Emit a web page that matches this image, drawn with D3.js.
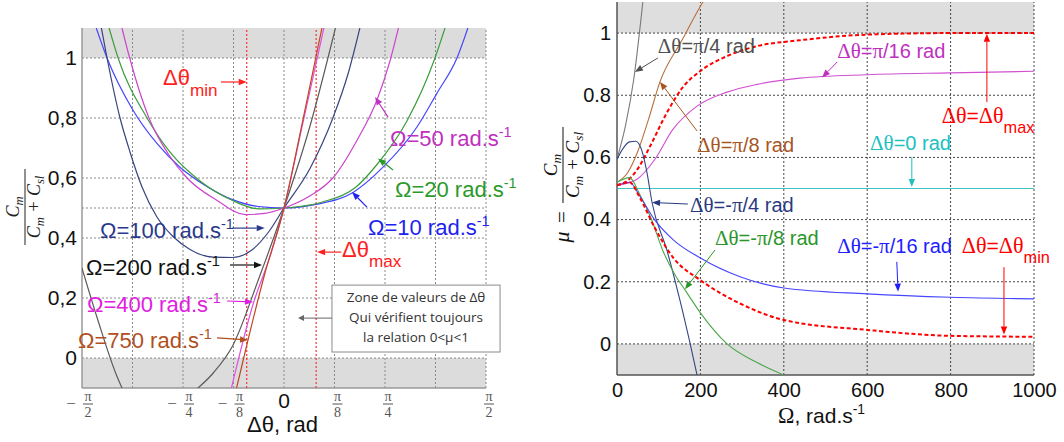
<!DOCTYPE html>
<html><head><meta charset="utf-8">
<script src="https://cdn.jsdelivr.net/npm/d3@7"></script>
<style>body{margin:0;background:#fff}svg{display:block}</style>
</head><body><svg id="c" width="1064" height="442"></svg>
<script>
const PI = Math.PI;
// ---------------- LEFT PANEL DATA : [Δθ (rad), μ] ----------------
const leftOmegas = [10, 20, 50, 100, 200, 400, 750];
const left_W10 = [[-1.46,1.1],[-1.376,1.0],[-1.18,0.83],[-0.99,0.716],[-0.809,0.636],[-0.6,0.572],[-0.4,0.528],[-0.2,0.505],[0,0.5],[0.25,0.512],[0.537,0.552],[0.77,0.636],[1.034,0.77],[1.19,0.883],[1.345,1.0],[1.43,1.1]];
const left_W20 = [[-1.36,1.1],[-1.29,1.0],[-1.065,0.8],[-0.886,0.686],[-0.653,0.59],[-0.4,0.525],[-0.2,0.497],[0,0.5],[0.3,0.52],[0.56,0.57],[0.723,0.645],[0.956,0.79],[1.174,1.0],[1.252,1.1]];
const left_W50 = [[-1.26,1.1],[-1.2,1.0],[-1.05,0.8],[-0.9,0.68],[-0.754,0.6],[-0.52,0.525],[-0.3,0.478],[-0.15,0.482],[0,0.5],[0.2,0.54],[0.38,0.6],[0.568,0.726],[0.723,0.86],[0.824,0.99],[0.89,1.1]];
const left_W100 = [[-1.42,1.1],[-1.376,1.0],[-1.275,0.8],[-1.197,0.686],[-1.104,0.57],[-0.988,0.47],[-0.863,0.405],[-0.731,0.362],[-0.55,0.336],[-0.4,0.335],[-0.25,0.36],[-0.12,0.42],[0,0.5],[0.2,0.63],[0.38,0.8],[0.5,0.95],[0.59,1.1]];
const left_W200 = [[-1.571,0.30],[-1.45,0.13],[-1.3,-0.06],[-1.15,-0.18],[-0.95,-0.22],[-0.72,-0.12],[-0.55,-0.05],[-0.4,0.04],[-0.2,0.26],[0,0.5],[0.2,0.77],[0.4,1.1]];
const left_W400 = [[-0.42,-0.12],[-0.24,0.18],[-0.1,0.35],[0,0.5],[0.15,0.79],[0.31,1.1],[0.35,1.18]];
const left_W750 = [[-0.38,-0.12],[-0.28,0.06],[-0.15,0.28],[0,0.5],[0.15,0.8],[0.295,1.1],[0.33,1.17]];
const leftLimits = [-0.29, 0.25];           // Δθmin, Δθmax (rad)
const leftYTicks = [0, 0.2, 0.4, 0.6, 0.8, 1];
const leftYTickLabels = ["0", "0,2", "0,4", "0,6", "0,8", "1"];
const leftYGrid = [0, 0.2, 0.4, 0.5, 0.6, 0.8, 1];
const leftXGrid = [-3*PI/8, -PI/4, -PI/8, 0, PI/8, PI/4, 3*PI/8, PI/2];
const leftXTicks = [-PI/2, -PI/4, -PI/8, 0, PI/8, PI/4, PI/2];
const leftXTickDen = ["2", "4", "8", "", "8", "4", "2"];

// ---------------- RIGHT PANEL DATA : [Ω (rad/s), μ] ----------------
const rightCats = ["π/4", "π/8", "max", "π/16", "0", "-π/4", "-π/8", "-π/16", "min"];
const right_p4  = [[0,0.595],[20,0.70],[40,0.85],[62,1.1],[70,1.2]];
const right_p8  = [[0,0.52],[25,0.55],[50,0.62],[75,0.72],[103,0.843],[155,0.975],[206,1.1],[220,1.13]];
const right_max = [[0,0.51],[25,0.525],[48,0.56],[79,0.635],[120,0.745],[158,0.826],[199,0.877],[264,0.926],[336,0.958],[439,0.977],[600,0.995],[800,1.0],[1000,1.0]];
const right_p16 = [[0,0.51],[48,0.53],[91,0.594],[134,0.69],[192,0.765],[264,0.81],[336,0.835],[439,0.855],[600,0.866],[800,0.872],[1000,0.877]];
const right_z   = [[0,0.5],[1000,0.5]];
const right_m4  = [[0,0.594],[15,0.63],[30,0.65],[45,0.652],[60,0.62],[72,0.55],[84,0.455],[120,0.30],[151,0.14],[175,0.003],[192,-0.1],[210,-0.2]];
const right_m8  = [[0,0.52],[30,0.535],[55,0.48],[80,0.41],[110,0.3],[140,0.22],[163,0.174],[200,0.1],[264,0.0],[336,-0.06],[400,-0.1],[450,-0.13]];
const right_m16 = [[0,0.51],[30,0.52],[55,0.475],[90,0.40],[135,0.335],[199,0.277],[295,0.216],[400,0.18],[600,0.161],[800,0.15],[1000,0.145]];
const right_min = [[0,0.51],[30,0.52],[55,0.47],[90,0.375],[135,0.277],[199,0.206],[295,0.13],[400,0.077],[600,0.045],[800,0.026],[1000,0.023]];
const rightXTicks = [0, 200, 400, 600, 800, 1000];
const rightYTicks = [0, 0.2, 0.4, 0.6, 0.8, 1];
const rightYTickLabels = ["0", "0.2", "0.4", "0.6", "0.8", "1"];
const bands = [[1, 1.1], [-0.1, 0]];

// ---------------- SETUP ----------------
const SANS = "'Liberation Sans', Arial, sans-serif";
const SERIF = "'Liberation Serif', 'Times New Roman', serif";
const svg = d3.select('#c');
const defs = svg.append('defs');

const xL = d3.scaleLinear().domain([-PI/2, PI/2]).range([82, 486]);
const yL = d3.scaleLinear().domain([-0.1, 1.1]).range([388, 28]);
const xR = d3.scaleLinear().domain([0, 1000]).range([617, 1034]);
const yR = d3.scaleLinear().domain([-0.1, 1.1]).range([375, 2]);

defs.append('clipPath').attr('id','clipL').append('rect')
  .attr('x', xL.range()[0]).attr('y', yL.range()[1]).attr('width', xL.range()[1]-xL.range()[0]).attr('height', yL.range()[0]-yL.range()[1]);
defs.append('clipPath').attr('id','clipR').append('rect')
  .attr('x', xR.range()[0]).attr('y', yR.range()[1]).attr('width', xR.range()[1]-xR.range()[0]).attr('height', yR.range()[0]-yR.range()[1]);

function rich(g, x, y, parts, o) {
  const size = o.size;
  const subK = o.subShift != null ? o.subShift : 0.48;
  const t = g.append('text').attr('x', x).attr('y', y).attr('fill', o.color)
    .attr('font-family', o.family || SANS).attr('font-size', size).attr('text-anchor', o.anchor || 'start');
  if (o.italic) t.attr('font-style', 'italic');
  let cur = 0;
  parts.forEach(([s, kind]) => {
    const sh = kind === 'sup' ? -0.42*size : kind === 'sub' ? subK*size : 0;
    const fs = kind === 'sup' ? size*0.66 : kind === 'sub' ? size*(o.subSize || 0.78) : size;
    const runs = o.serifGreek ? s.match(/[ΔθπΩμ]+|[^ΔθπΩμ]+/g) : [s];
    runs.forEach((r, i) => {
      const ts = t.append('tspan').text(r).attr('font-size', fs);
      if (i === 0 && sh !== cur) { ts.attr('dy', sh - cur); cur = sh; }
      if (o.serifGreek && /[ΔθπΩμ]/.test(r)) ts.attr('font-family', SERIF).attr('font-size', fs*1.05);
    });
  });
  return t;
}
function arrow(g, x1, y1, x2, y2, color, sw = 1, hl = 8, hw = 3.2) {
  const a = Math.atan2(y2 - y1, x2 - x1);
  const bx = x2 - hl*Math.cos(a), by = y2 - hl*Math.sin(a);
  g.append('line').attr('x1', x1).attr('y1', y1).attr('x2', bx).attr('y2', by)
    .attr('stroke', color).attr('stroke-width', sw);
  g.append('path').attr('d', `M${x2},${y2}L${bx + hw*Math.sin(a)},${by - hw*Math.cos(a)}L${bx - hw*Math.sin(a)},${by + hw*Math.cos(a)}Z`)
    .attr('fill', color);
}
function fraction(g, tx, ty, half, size, color, numY, denY) {
  const f = g.append('g').attr('transform', `translate(${tx},${ty}) rotate(-90)`);
  f.append('line').attr('x1', -half).attr('x2', half).attr('y1', 0).attr('y2', 0).attr('stroke', color).attr('stroke-width', 1);
  const opt = {size: size, color: color, anchor: 'middle', family: SERIF, italic: true, subShift: 0.22, subSize: 0.7};
  rich(f, 0, numY, [['C', ''], ['m', 'sub']], opt);
  rich(f, 0, denY, [['C', ''], ['m', 'sub'], [' + ', ''], ['C', ''], ['sl', 'sub']], opt);
  return f;
}

// ================= LEFT PANEL =================
const gL = svg.append('g');
gL.selectAll('rect.band').data(bands).enter().append('rect')
  .attr('x', xL(-PI/2)).attr('width', xL(PI/2) - xL(-PI/2))
  .attr('y', d => yL(d[1])).attr('height', d => yL(d[0]) - yL(d[1])).attr('fill', '#dcdcdc');
gL.selectAll('line.gy').data(leftYGrid).enter().append('line')
  .attr('x1', xL(-PI/2)).attr('x2', xL(PI/2)).attr('y1', d => yL(d)).attr('y2', d => yL(d))
  .attr('stroke', '#8a8a8a').attr('stroke-width', 1).attr('stroke-dasharray', '2,2');
gL.selectAll('line.gx').data(leftXGrid).enter().append('line')
  .attr('x1', d => xL(d)).attr('x2', d => xL(d)).attr('y1', yL(-0.1)).attr('y2', yL(1.1))
  .attr('stroke', '#8a8a8a').attr('stroke-width', 1).attr('stroke-dasharray', '2,2');
gL.append('line').attr('x1', xL(-PI/2)).attr('x2', xL(-PI/2)).attr('y1', yL(-0.1)).attr('y2', yL(1.1)).attr('stroke', '#9a9a9a').attr('stroke-width', 1.5);
gL.append('line').attr('x1', xL(-PI/2)).attr('x2', xL(PI/2)).attr('y1', yL(-0.1)).attr('y2', yL(-0.1)).attr('stroke', '#9a9a9a').attr('stroke-width', 1.5);
gL.selectAll('line.lim').data(leftLimits).enter().append('line')
  .attr('x1', d => xL(d)).attr('x2', d => xL(d)).attr('y1', yL(-0.1)).attr('y2', yL(1.1))
  .attr('stroke', '#ff3030').attr('stroke-width', 1.2).attr('stroke-dasharray', '2,2');

const leftSeries = [left_W10, left_W20, left_W50, left_W100, left_W200, left_W400, left_W750];
const leftColors = ['#4646ff', '#3a9e3a', '#cc44cc', '#38447e', '#5a5a5a', '#e050e0', '#c0461e'];
const lineL = d3.line().x(d => xL(d[0])).y(d => yL(d[1])).curve(d3.curveMonotoneX);
const curvesL = gL.append('g').attr('clip-path', 'url(#clipL)');
leftSeries.forEach((s, i) => {
  curvesL.append('path').attr('d', lineL(s)).attr('fill', 'none')
    .attr('stroke', leftColors[i]).attr('stroke-width', 1.2);
});

const axL = gL.append('g').attr('transform', `translate(${xL(-PI/2)},0)`)
  .call(d3.axisLeft(yL).tickValues(leftYTicks).tickFormat((d, i) => leftYTickLabels[i]).tickSize(0).tickPadding(5));
axL.select('.domain').remove();
axL.selectAll('text').attr('font-family', SANS).attr('font-size', 21).attr('fill', '#111');
leftXTicks.forEach((v, i) => {
  const tx = xL(v);
  if (v === 0) {
    gL.append('text').attr('x', tx).attr('y', 408).attr('text-anchor', 'middle')
      .attr('font-family', SANS).attr('font-size', 21).attr('fill', '#111').text('0');
    return;
  }
  const cx = v < 0 ? tx + 6 : tx + 3;
  if (v < 0) gL.append('text').attr('x', tx - 11).attr('y', 409).attr('text-anchor', 'middle')
    .attr('font-family', SERIF).attr('font-size', 17).attr('fill', '#555').text('−');
  gL.append('text').attr('x', cx).attr('y', 401).attr('text-anchor', 'middle')
    .attr('font-family', SERIF).attr('font-size', 14).attr('fill', '#555').text('π');
  gL.append('line').attr('x1', cx - 5).attr('x2', cx + 5).attr('y1', 404).attr('y2', 404).attr('stroke', '#555').attr('stroke-width', 1);
  gL.append('text').attr('x', cx).attr('y', 417).attr('text-anchor', 'middle')
    .attr('font-family', SERIF).attr('font-size', 14).attr('fill', '#555').text(leftXTickDen[i]);
});
gL.append('text').attr('x', 247).attr('y', 432).attr('font-family', SANS).attr('font-size', 22).attr('fill', '#111').text('Δθ, rad');
fraction(gL, 25, 207, 38, 18, '#222', -6, 15);

const leftAnn = [
  {i: 0, at: [0.653, 0.41],  arr: [[0.645, 0.503], [0.529, 0.553]], color: '#2222ee'},
  {i: 1, at: [0.863, 0.537], arr: [[0.848, 0.627], [0.731, 0.665]], color: '#2a9a2a'},
  {i: 2, at: [0.824, 0.707], arr: [[0.809, 0.803], [0.708, 0.87]],  color: '#c030c0'},
  {i: 3, at: [-1.431, 0.40], arr: [[-0.404, 0.433], [-0.15, 0.433]], color: '#2a3a8a'},
  {i: 4, at: [-1.54, 0.277], arr: [[-0.42, 0.31], [-0.171, 0.31]],  color: '#111111'},
  {i: 5, at: [-1.532, 0.153], arr: [[-0.443, 0.19], [-0.241, 0.187]], color: '#e020e0'},
  {i: 6, at: [-1.602, 0.033], arr: [[-0.521, 0.067], [-0.28, 0.06]], color: '#b0501e'}
];
leftAnn.forEach(a => {
  rich(gL, xL(a.at[0]), yL(a.at[1]), [[`Ω=${leftOmegas[a.i]} rad.s`, ''], ['-1', 'sup']], {size: 22, color: a.color});
  arrow(gL, xL(a.arr[0][0]), yL(a.arr[0][1]), xL(a.arr[1][0]), yL(a.arr[1][1]), a.color, 1.2);
});
rich(gL, xL(-0.941), yL(0.91), [['Δθ', ''], ['min', 'sub']], {size: 22, color: '#ff2020'});
arrow(gL, xL(-0.49), yL(0.92), xL(leftLimits[0]), yL(0.92), '#ff2020', 1.2);
rich(gL, xL(0.451), yL(0.337), [['Δθ', ''], ['max', 'sub']], {size: 22, color: '#ff2020'});
arrow(gL, xL(0.445), yL(0.353), xL(leftLimits[1]) + 1, yL(0.353), '#ff2020', 1.2);
const bx0 = xL(0.373), bx1 = xL(1.68), by0 = yL(0.243), by1 = yL(0.02);
gL.append('rect').attr('x', bx0).attr('y', by0).attr('width', bx1 - bx0).attr('height', by1 - by0)
  .attr('fill', '#fff').attr('stroke', '#8a8a8a').attr('stroke-width', 1);
const boxLines = ['Zone de valeurs de Δθ', 'Qui vérifient toujours', 'la relation 0<μ<1'];
const boxY = [0.187, 0.12, 0.053];
boxLines.forEach((s, i) => gL.append('text').attr('x', (bx0 + bx1)/2).attr('y', yL(boxY[i])).attr('text-anchor', 'middle')
  .attr('font-family', "'Open Sans', sans-serif").attr('font-size', 13.5).attr('fill', '#333').text(s));
arrow(gL, bx0, yL(0.133), xL(0.109), yL(0.133), '#666', 1, 6, 3);

// ================= RIGHT PANEL =================
const gR = svg.append('g');
gR.selectAll('rect.band').data(bands).enter().append('rect')
  .attr('x', xR(0)).attr('width', xR(1000) - xR(0))
  .attr('y', d => yR(d[1])).attr('height', d => yR(d[0]) - yR(d[1])).attr('fill', '#dedede');
gR.selectAll('line.gy').data(rightYTicks).enter().append('line')
  .attr('x1', xR(0)).attr('x2', xR(1000)).attr('y1', d => yR(d)).attr('y2', d => yR(d))
  .attr('stroke', '#444').attr('stroke-width', 1).attr('stroke-dasharray', '2,2');
gR.selectAll('line.gx').data(rightXTicks.slice(1)).enter().append('line')
  .attr('x1', d => xR(d)).attr('x2', d => xR(d)).attr('y1', yR(-0.1)).attr('y2', yR(1.1))
  .attr('stroke', '#444').attr('stroke-width', 1).attr('stroke-dasharray', '2,2');
gR.append('line').attr('x1', xR(0)).attr('x2', xR(0)).attr('y1', yR(-0.1)).attr('y2', yR(1.1)).attr('stroke', '#555').attr('stroke-width', 1.5);
gR.append('line').attr('x1', xR(0)).attr('x2', xR(1000)).attr('y1', yR(-0.1)).attr('y2', yR(-0.1)).attr('stroke', '#555').attr('stroke-width', 1.5);

const rightSeries = [right_p4, right_p8, right_max, right_p16, right_z, right_m4, right_m8, right_m16, right_min];
const rightColors = ['#7a7a7a', '#b8703e', '#ff0000', '#d050d0', '#40c4c4', '#344585', '#4aa84a', '#4646ff', '#ff0000'];
const lineR = d3.line().x(d => xR(d[0])).y(d => yR(d[1])).curve(d3.curveMonotoneX);
const curvesR = gR.append('g').attr('clip-path', 'url(#clipR)');
rightSeries.forEach((s, i) => {
  const dashed = rightCats[i] === 'max' || rightCats[i] === 'min';
  curvesR.append('path').attr('d', lineR(s)).attr('fill', 'none')
    .attr('stroke', rightColors[i]).attr('stroke-width', dashed ? 2 : 1.1)
    .attr('stroke-dasharray', dashed ? '4,2.5' : null);
});

const axRy = gR.append('g').attr('transform', `translate(${xR(0)},0)`)
  .call(d3.axisLeft(yR).tickValues(rightYTicks).tickFormat((d, i) => rightYTickLabels[i]).tickSize(0).tickPadding(6));
axRy.select('.domain').remove();
axRy.selectAll('text').attr('font-family', SANS).attr('font-size', 20).attr('fill', '#111');
const axRx = gR.append('g').attr('transform', `translate(0,${yR(-0.1)})`)
  .call(d3.axisBottom(xR).tickValues(rightXTicks).tickFormat(d3.format('d')).tickSize(0).tickPadding(8));
axRx.select('.domain').remove();
axRx.selectAll('text').attr('font-family', SANS).attr('font-size', 20).attr('fill', '#111');
rich(gR, 778, 423, [['Ω, rad.s', ''], ['-1', 'sup']], {size: 21, color: '#111', serifGreek: true});
const ytR = fraction(gR, 563, 165, 38, 19, '#111', -6, 16);
ytR.append('text').attr('x', -52).attr('y', 6).attr('text-anchor', 'middle').attr('font-family', SERIF).attr('font-size', 21).attr('fill', '#111').text('=');
ytR.append('text').attr('x', -72).attr('y', 6).attr('text-anchor', 'middle').attr('font-family', SERIF).attr('font-style', 'italic').attr('font-size', 22).attr('fill', '#111').text('μ');

const rightAnn = [
  {c: 'π/4',  at: [98, 0.936],  arr: [[98, 0.92], [43, 0.875]],   color: '#505050'},
  {c: 'π/8',  at: [192, 0.618], arr: [[192, 0.685], [103, 0.843]], color: '#a8561f'},
  {c: 'π/16', at: [528, 0.92],  arr: [[528, 0.907], [492, 0.857]], color: '#c030c0'},
  {c: '0',    at: [607, 0.624], arr: [[707, 0.601], [707, 0.505]], color: '#20c0c0'},
  {c: '-π/4', at: [175, 0.424], arr: [[170, 0.45], [84, 0.455]],   color: '#2a3a80'},
  {c: '-π/8', at: [235, 0.318], arr: [[235, 0.302], [163, 0.176]], color: '#2a962a'},
  {c: '-π/16',at: [528, 0.293], arr: [[671, 0.264], [674, 0.168]], color: '#2020ff'}
];
rightAnn.forEach(a => {
  rich(gR, xR(a.at[0]), yR(a.at[1]), [[`Δθ=${a.c} rad`, '']], {size: 20, color: a.color, serifGreek: true});
  arrow(gR, xR(a.arr[0][0]), yR(a.arr[0][1]), xR(a.arr[1][0]), yR(a.arr[1][1]), a.color, 1);
});
rich(gR, xR(779), yR(0.711), [['Δθ=Δθ', ''], ['max', 'sub']], {size: 21, color: '#ff0000', serifGreek: true});
arrow(gR, xR(887), yR(0.778), xR(887), yR(0.998), '#ff0000', 1);
rich(gR, xR(827), yR(0.293), [['Δθ=Δθ', ''], ['min', 'sub']], {size: 21, color: '#ff0000', serifGreek: true});
arrow(gR, xR(928), yR(0.247), xR(928), yR(0.03), '#ff0000', 1);
</script></body></html>
